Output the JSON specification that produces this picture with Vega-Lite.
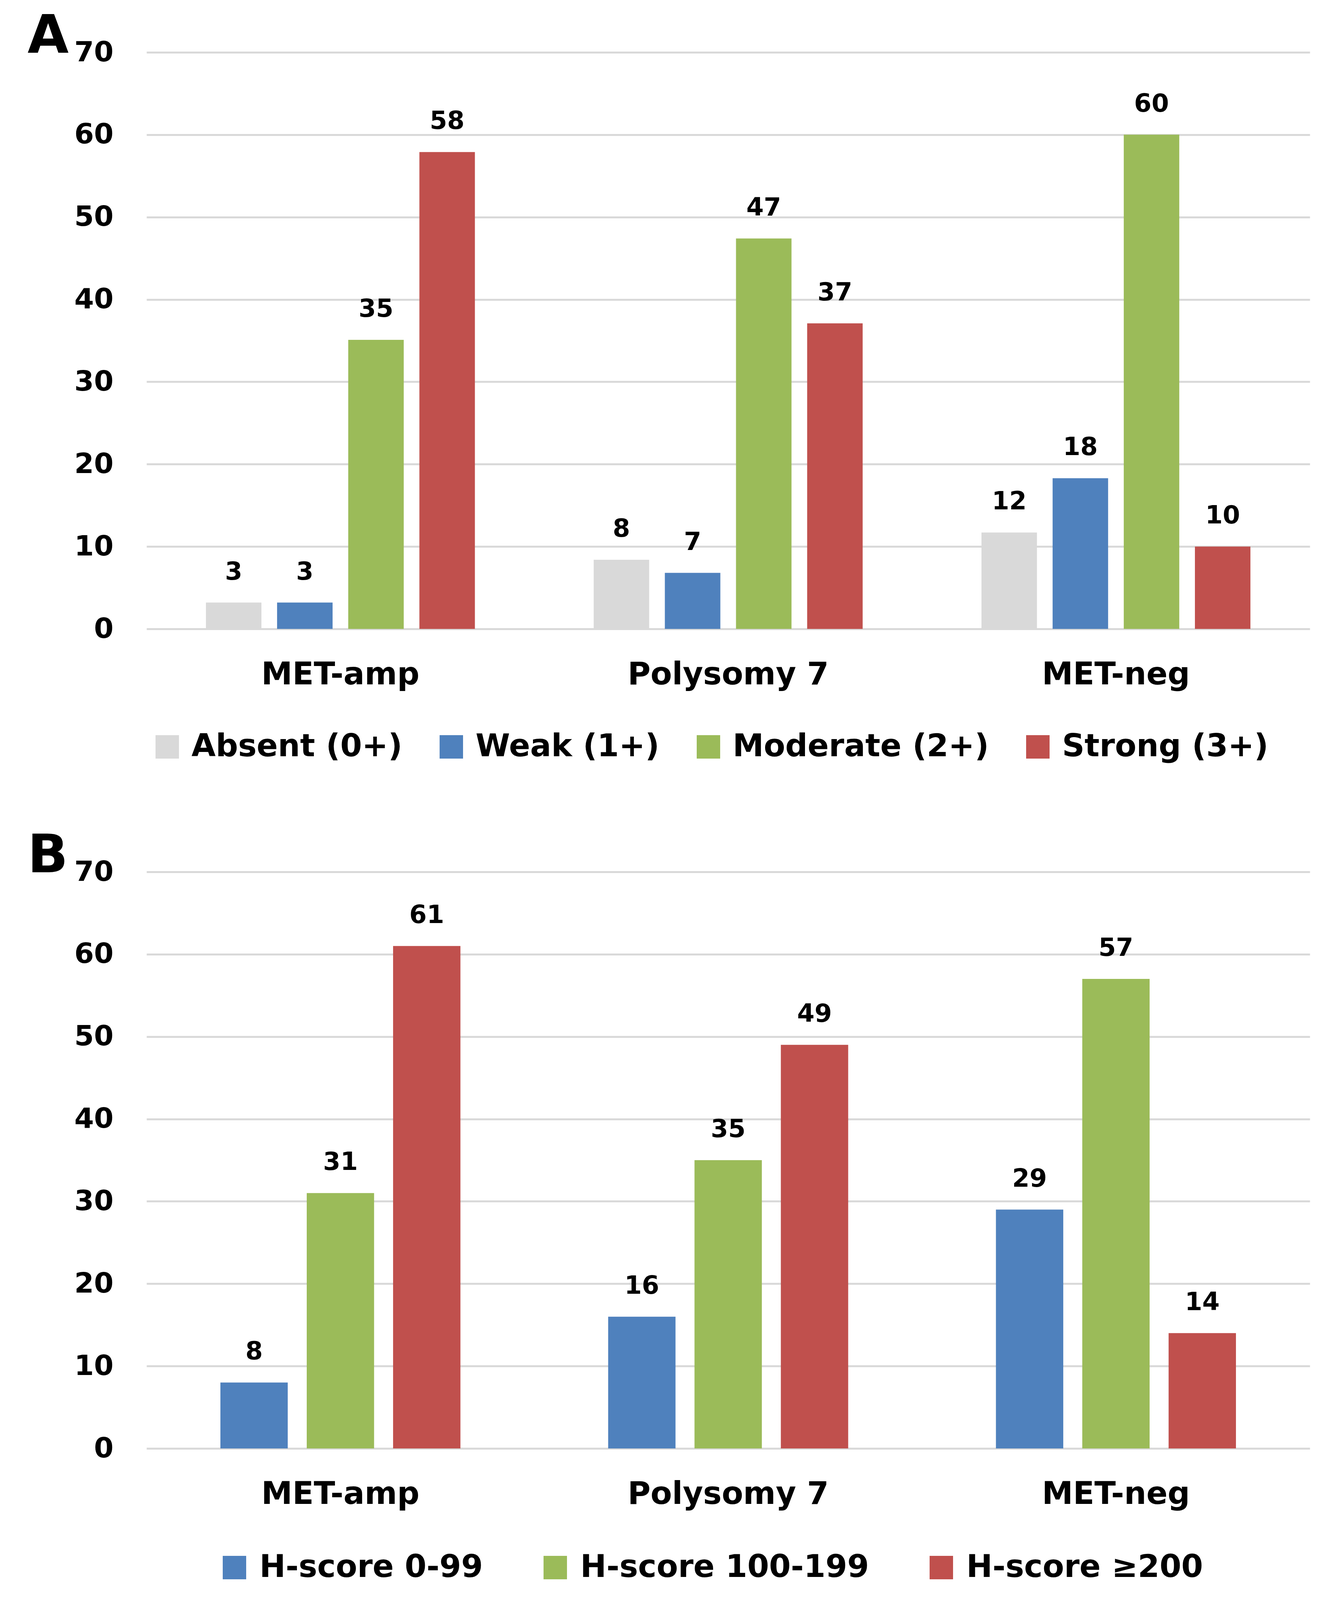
{
  "$schema": "https://vega.github.io/schema/vega-lite/v6.json",
  "background": "white",
  "padding": {"left": 70, "top": 25, "right": 67, "bottom": 20},
  "spacing": 171,
  "config": {
    "font": "DejaVu Sans",
    "view": {"stroke": null},
    "axisY": {
      "grid": true, "gridColor": "#D9D9D9", "gridWidth": 5,
      "domain": false, "ticks": false,
      "labelFontSize": 72, "labelFontWeight": "bold", "labelColor": "#000000", "labelPadding": 85,
      "titleAngle": 0, "titleX": -305, "titleY": 0, "titleAlign": "left", "titleBaseline": "alphabetic",
      "titleFontSize": 136, "titleFontWeight": "bold", "titleColor": "#000000"
    },
    "axisX": {
      "domain": false, "ticks": false, "grid": false, "labelLimit": 2000,
      "labelAngle": 0, "labelFontSize": 80, "labelFontWeight": "bold", "labelColor": "#000000", "labelPadding": 78
    },
    "legend": {
      "padding": 0, "symbolType": "square", "symbolSize": 3600, "symbolStrokeWidth": 0,
      "labelFontSize": 80, "labelFontWeight": "bold", "labelColor": "#000000", "labelLimit": 2000
    }
  },
  "resolve": {
    "scale": {"x": "independent", "xOffset": "independent", "y": "independent", "color": "independent"},
    "legend": {"color": "independent"}
  },
  "vconcat": [
    {
      "width": 2977,
      "height": 1476,
      "data": {"values": [
        {"group": "MET-amp", "intensity": "Absent (0+)", "value": 3.2, "label": "3"},
        {"group": "MET-amp", "intensity": "Weak (1+)", "value": 3.2, "label": "3"},
        {"group": "MET-amp", "intensity": "Moderate (2+)", "value": 35.1, "label": "35"},
        {"group": "MET-amp", "intensity": "Strong (3+)", "value": 57.9, "label": "58"},
        {"group": "Polysomy 7", "intensity": "Absent (0+)", "value": 8.4, "label": "8"},
        {"group": "Polysomy 7", "intensity": "Weak (1+)", "value": 6.8, "label": "7"},
        {"group": "Polysomy 7", "intensity": "Moderate (2+)", "value": 47.4, "label": "47"},
        {"group": "Polysomy 7", "intensity": "Strong (3+)", "value": 37.1, "label": "37"},
        {"group": "MET-neg", "intensity": "Absent (0+)", "value": 11.7, "label": "12"},
        {"group": "MET-neg", "intensity": "Weak (1+)", "value": 18.3, "label": "18"},
        {"group": "MET-neg", "intensity": "Moderate (2+)", "value": 60, "label": "60"},
        {"group": "MET-neg", "intensity": "Strong (3+)", "value": 10, "label": "10"}
      ]},
      "encoding": {
        "x": {"field": "group", "type": "nominal", "sort": ["MET-amp", "Polysomy 7", "MET-neg"],
              "scale": {"paddingInner": 0.266, "paddingOuter": 0.133}, "axis": {"title": null}},
        "xOffset": {"field": "intensity", "type": "nominal",
              "sort": ["Absent (0+)", "Weak (1+)", "Moderate (2+)", "Strong (3+)"],
              "scale": {"paddingInner": 0.22, "paddingOuter": 0.11}},
        "y": {"field": "value", "type": "quantitative", "scale": {"domain": [0, 70]},
              "axis": {"values": [0, 10, 20, 30, 40, 50, 60, 70], "title": "A"}}
      },
      "layer": [
        {
          "mark": {"type": "bar"},
          "encoding": {
            "color": {"field": "intensity", "type": "nominal",
              "sort": ["Absent (0+)", "Weak (1+)", "Moderate (2+)", "Strong (3+)"],
              "scale": {"domain": ["Absent (0+)", "Weak (1+)", "Moderate (2+)", "Strong (3+)"],
                        "range": ["#D9D9D9", "#4F81BD", "#9BBB59", "#C0504D"]},
              "legend": {"orient": "none", "legendX": 13, "legendY": 1738, "direction": "horizontal",
                         "title": null, "labelOffset": 22, "columnPadding": 85}}
          }
        },
        {
          "mark": {"type": "text", "baseline": "alphabetic", "dy": -59, "fontSize": 64, "fontWeight": "bold", "color": "#000000"},
          "encoding": {"text": {"field": "label", "type": "nominal"}}
        }
      ]
    },
    {
      "width": 2977,
      "height": 1476,
      "data": {"values": [
        {"group": "MET-amp", "score": "H-score 0-99", "value": 8, "label": "8"},
        {"group": "MET-amp", "score": "H-score 100-199", "value": 31, "label": "31"},
        {"group": "MET-amp", "score": "H-score ≥200", "value": 61, "label": "61"},
        {"group": "Polysomy 7", "score": "H-score 0-99", "value": 16, "label": "16"},
        {"group": "Polysomy 7", "score": "H-score 100-199", "value": 35, "label": "35"},
        {"group": "Polysomy 7", "score": "H-score ≥200", "value": 49, "label": "49"},
        {"group": "MET-neg", "score": "H-score 0-99", "value": 29, "label": "29"},
        {"group": "MET-neg", "score": "H-score 100-199", "value": 57, "label": "57"},
        {"group": "MET-neg", "score": "H-score ≥200", "value": 14, "label": "14"}
      ]},
      "encoding": {
        "x": {"field": "group", "type": "nominal", "sort": ["MET-amp", "Polysomy 7", "MET-neg"],
              "scale": {"paddingInner": 0.332, "paddingOuter": 0.166}, "axis": {"title": null}},
        "xOffset": {"field": "score", "type": "nominal",
              "sort": ["H-score 0-99", "H-score 100-199", "H-score ≥200"],
              "scale": {"paddingInner": 0.22, "paddingOuter": 0.11}},
        "y": {"field": "value", "type": "quantitative", "scale": {"domain": [0, 70]},
              "axis": {"values": [0, 10, 20, 30, 40, 50, 60, 70], "title": "B"}}
      },
      "layer": [
        {
          "mark": {"type": "bar"},
          "encoding": {
            "color": {"field": "score", "type": "nominal",
              "sort": ["H-score 0-99", "H-score 100-199", "H-score ≥200"],
              "scale": {"domain": ["H-score 0-99", "H-score 100-199", "H-score ≥200"],
                        "range": ["#4F81BD", "#9BBB59", "#C0504D"]},
              "legend": {"orient": "none", "legendX": 185, "legendY": 1741, "direction": "horizontal",
                         "title": null, "labelOffset": 24, "columnPadding": 145}}
          }
        },
        {
          "mark": {"type": "text", "baseline": "alphabetic", "dy": -59, "fontSize": 64, "fontWeight": "bold", "color": "#000000"},
          "encoding": {"text": {"field": "label", "type": "nominal"}}
        }
      ]
    }
  ]
}
